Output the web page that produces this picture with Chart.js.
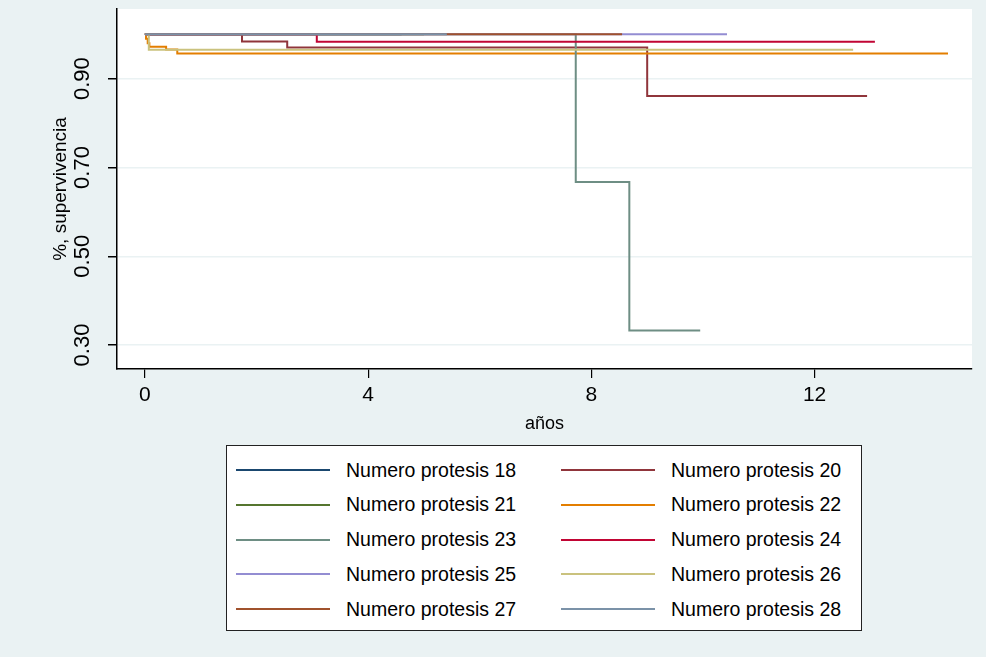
<!DOCTYPE html>
<html>
<head>
<meta charset="utf-8">
<script src="https://cdn.jsdelivr.net/npm/chart.js@4.4.1/dist/chart.umd.min.js"></script>
<style>
  html, body { margin: 0; padding: 0; background: #EAF2F3; }
  #wrap { position: relative; width: 986px; height: 657px; }
  #c { position: absolute; left: 0; top: 0; }
  #legend {
    position: absolute; left: 226px; top: 445px; width: 636px; height: 186px;
    background: #fff; border: 1.5px solid #222; box-sizing: border-box;
    font-family: "Liberation Sans", Arial, Helvetica, sans-serif; font-size: 19.5px; color: #000;
  }
  .item { position: absolute; height: 34px; display: flex; align-items: center; white-space: nowrap; }
  .swatch { width: 94px; height: 2px; margin-right: 16px; }
</style>
</head>
<body>
<div id="wrap">
  <canvas id="c" width="986" height="657"></canvas>
  <div id="legend"></div>
</div>
<script>
// ---- Data ----
const seriesLabels = ["Numero protesis 18", "Numero protesis 20", "Numero protesis 21", "Numero protesis 22",
  "Numero protesis 23", "Numero protesis 24", "Numero protesis 25", "Numero protesis 26",
  "Numero protesis 27", "Numero protesis 28"];

const t18 = [0, 4.6];                               const s18 = [1, 1];
const t20 = [0, 1.74, 2.55, 9.0, 12.94];            const s20 = [1, 0.984, 0.970, 0.861, 0.861];
const t21 = [0, 5.0];                               const s21 = [1, 1];
const t22 = [0, 0.02, 0.05, 0.08, 0.38, 0.58, 14.39]; const s22 = [1, 0.99, 0.98, 0.972, 0.966, 0.957, 0.957];
const t23 = [0, 7.72, 8.68, 9.95];                  const s23 = [1, 0.667, 0.333, 0.333];
const t24 = [0, 3.08, 13.08];                       const s24 = [1, 0.983, 0.983];
const t25 = [0, 10.43];                             const s25 = [1, 1];
const t26 = [0, 0.07, 12.69];                       const s26 = [1, 0.965, 0.965];
const t27 = [0, 8.55];                              const s27 = [1, 1];
const t28 = [0, 5.41];                              const s28 = [1, 1];

const xTicks = [0, 4, 8, 12];
const yTicks = [0.30, 0.50, 0.70, 0.90];
const xTitle = "años";
const yTitle = "%, supervivencia";

// ---- Styles ----
const colors = ["#1A476F", "#90353B", "#55752F", "#E37E00", "#6E8E84",
  "#C10534", "#938DD2", "#CAC27E", "#A0522D", "#7B92A8"];
const FONT = '"Liberation Sans", Arial, Helvetica, sans-serif';

const times = [t18, t20, t21, t22, t23, t24, t25, t26, t27, t28];
const survs = [s18, s20, s21, s22, s23, s24, s25, s26, s27, s28];

const datasets = seriesLabels.map((lab, i) => ({
  label: lab,
  data: times[i].map((t, j) => ({ x: t, y: survs[i][j] })),
  borderColor: colors[i],
  backgroundColor: colors[i],
  borderWidth: 2,
  pointRadius: 0,
  showLine: true,
  stepped: true,
  fill: false,
  order: seriesLabels.length - i   // later series drawn on top, as in the original
}));

const bgPlugin = {
  id: 'bg',
  beforeDraw(chart) {
    const { ctx, chartArea: a } = chart;
    ctx.save();
    ctx.fillStyle = '#EAF2F3';
    ctx.fillRect(0, 0, chart.width, chart.height);
    ctx.fillStyle = '#FFFFFF';
    ctx.fillRect(a.left, a.top, a.right - a.left, a.bottom - a.top);
    ctx.restore();
  }
};

new Chart(document.getElementById('c'), {
  type: 'scatter',
  data: { datasets },
  plugins: [bgPlugin],
  options: {
    responsive: false,
    devicePixelRatio: 1,
    animation: false,
    layout: { padding: { left: 0, right: 14, top: 9, bottom: 0 } },
    plugins: { legend: { display: false }, tooltip: { enabled: false } },
    scales: {
      x: {
        type: 'linear', min: -0.5, max: 14.82,
        afterFit: s => { s.height = 288; s.paddingLeft = 0; s.paddingRight = 0; },
        afterBuildTicks: s => { s.ticks = xTicks.map(v => ({ value: v })); },
        grid: { drawOnChartArea: false, color: '#000', tickLength: 9, lineWidth: 1.2 },
        border: { color: '#000', width: 1.5 },
        ticks: { color: '#000', font: { family: FONT, size: 21 }, padding: 5, maxRotation: 0, autoSkip: false,
                 callback: v => String(v) },
        title: { display: true, text: xTitle, color: '#000', font: { family: FONT, size: 18 },
                 padding: { top: 0, bottom: 222 } }
      },
      y: {
        type: 'linear', min: 0.246, max: 1.057,
        afterFit: s => { s.width = 117; s.paddingTop = 0; s.paddingBottom = 0; },
        afterBuildTicks: s => { s.ticks = yTicks.map(v => ({ value: v })); },
        grid: { color: '#EAF2F3', lineWidth: 1.5, tickColor: '#000', tickLength: 9, drawTicks: true },
        border: { color: '#000', width: 1.5 },
        ticks: { color: '#000', font: { family: FONT, size: 22 }, padding: 4, minRotation: 90, maxRotation: 90,
                 crossAlign: 'center', autoSkip: false, callback: v => Number(v).toFixed(2) },
        title: { display: true, text: yTitle, color: '#000', font: { family: FONT, size: 19 },
                 padding: { top: 49, bottom: 0 } }
      }
    }
  }
});

// ---- Legend (two columns, Stata style) ----
const leg = document.getElementById('legend');
seriesLabels.forEach((lab, i) => {
  const col = i % 2, row = Math.floor(i / 2);
  const it = document.createElement('div');
  it.className = 'item';
  it.style.left = (col === 0 ? 9 : 334) + 'px';
  it.style.top = (7 + row * 34.8) + 'px';
  const sw = document.createElement('span');
  sw.className = 'swatch';
  sw.style.background = colors[i];
  const tx = document.createElement('span');
  tx.textContent = lab;
  it.appendChild(sw); it.appendChild(tx);
  leg.appendChild(it);
});
</script>
</body>
</html>
